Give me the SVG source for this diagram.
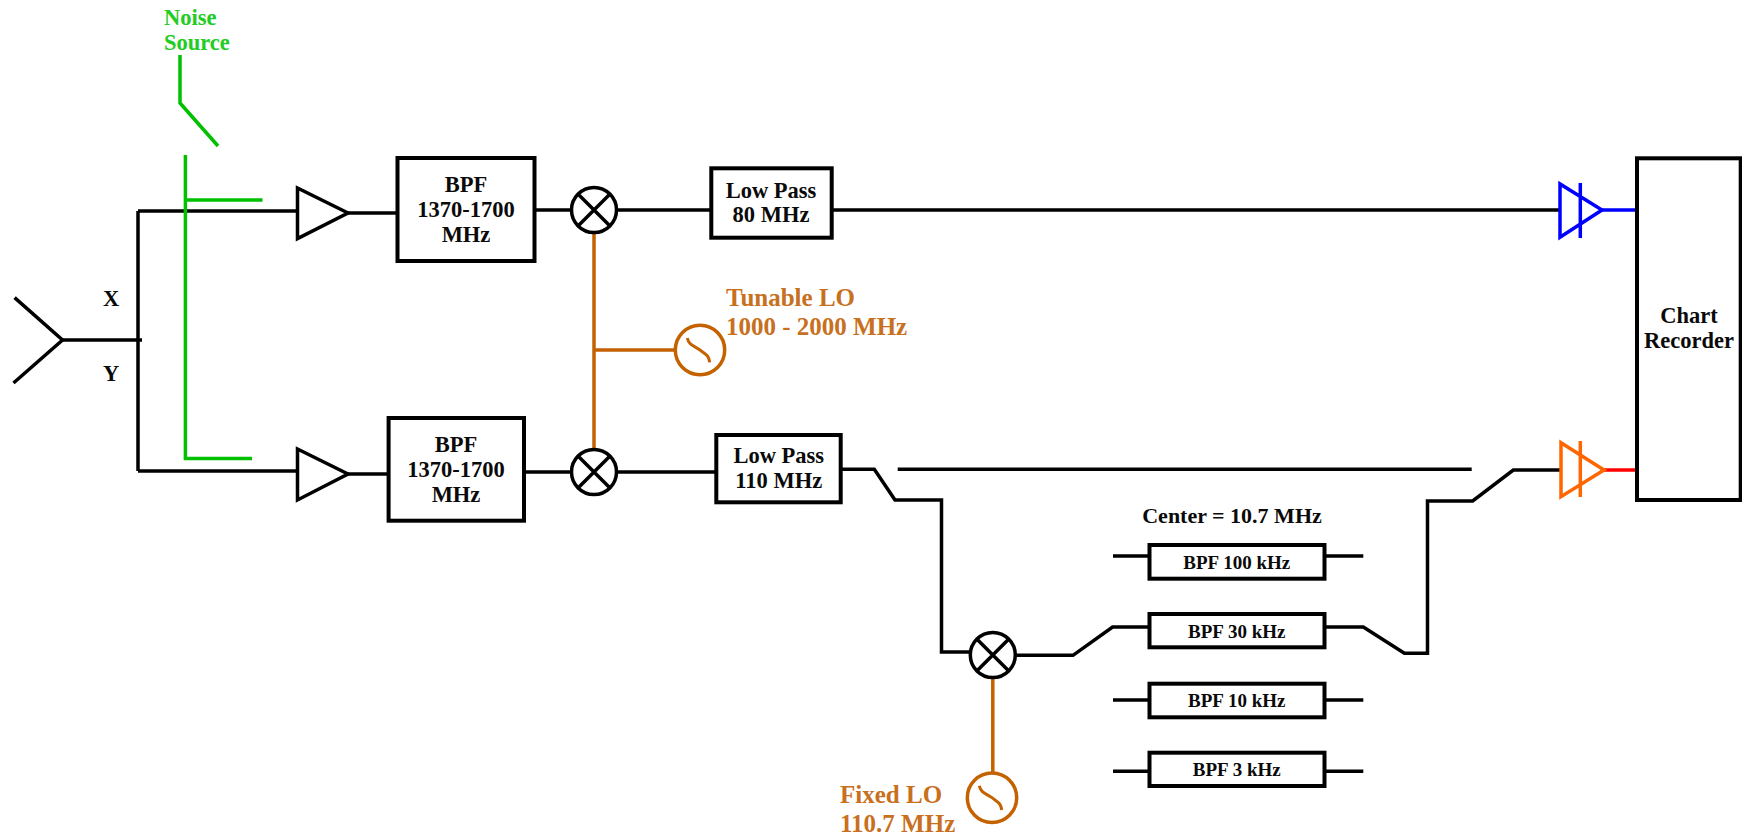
<svg xmlns="http://www.w3.org/2000/svg" width="1742" height="835" viewBox="0 0 1742 835">
<style>
text{font-family:"Liberation Serif","Times New Roman",serif;font-weight:bold;fill:#0a0a0a;font-size:22.5px;text-anchor:middle}
.s{font-size:19px}
.bo{fill:#c8701e;font-size:25px;text-anchor:start}
.gt{fill:#22cc22;font-size:22.500px;text-anchor:start}
.box{fill:#fff;stroke:#000;stroke-width:4}
.w{fill:none;stroke:#000;stroke-width:3.5}
.o{fill:none;stroke:#c46200;stroke-width:3.5}
.g{fill:none;stroke:#00c000;stroke-width:3.5}
.b{fill:none;stroke:#0000ff;stroke-width:3.5}
.r{fill:none;stroke:#ff6600;stroke-width:3.5}
.red{fill:none;stroke:#ff0000;stroke-width:3.5}
.amp{fill:#fff;stroke:#000;stroke-width:3.5;stroke-linejoin:miter}
</style>
<defs>
<g id="mix"><circle r="22.5" fill="#fff" stroke="#000" stroke-width="3.5"/><path d="M-16-16L16 16M-16 16L16-16" stroke="#000" stroke-width="3.5"/></g>
<g id="osc"><circle r="24.7" fill="#fff" stroke="#c46200" stroke-width="3.5"/><path d="M-12.700-12C-11-4 -5-4 0 0S9 5 9.700 12.300" fill="none" stroke="#c46200" stroke-width="3"/></g>
</defs>
<g id="connectors">
<path class="w" d="M62.500 340H142M138 211V471M138 211H298M138 471H298M348 213H397M348 474H389"/>
<path class="w" d="M534 210H572M616 210H711M832 210H1560M524 472H572M616 472H716"/>
<path class="w" d="M841 469.300H874.300L895 500H941.500V652H970M897.700 469.300H1471.700M1015 655.300H1073L1112.600 627H1149.500M1324.500 627H1363.300L1404.400 653.300H1427.500V501H1472.700L1513.300 470H1561"/>
<path class="w" d="M1113 556H1149.500M1324.500 556H1363.300M1113 700H1149.500M1324.500 700H1363.300M1113 771.300H1149.500M1324.500 771.300H1363.300"/>
<path class="o" d="M594 232V450M594 350H676M992.800 678V773"/>
<path class="b" d="M1602 210H1637"/>
<path class="red" d="M1604 470H1637"/>
</g>
<g id="noise-source">
<path class="g" d="M180 55V103L218 146M185.400 155V458.500H252M185.400 200H262.500"/>
<text class="gt" x="164" y="25">Noise</text>
<text class="gt" x="164" y="50">Source</text>
</g>
<g id="antenna"><path class="w" d="M14.600 297.600L62.500 340L13.500 383"/></g>
<g id="label-x"><text x="111" y="306">X</text></g>
<g id="label-y"><text x="111" y="381">Y</text></g>
<g id="amp-x"><path class="amp" d="M297.500 188V238.600L348 213Z"/></g>
<g id="amp-y"><path class="amp" d="M297.500 449V500L348 474Z"/></g>
<g id="bpf-x"><rect class="box" x="397.500" y="158" width="137" height="103"/>
<text x="466" y="192.400">BPF</text><text x="466" y="217">1370-1700</text><text x="466" y="242">MHz</text></g>
<g id="bpf-y"><rect class="box" x="388.600" y="418" width="135.400" height="102.700"/>
<text x="456" y="451.700">BPF</text><text x="456" y="476.500">1370-1700</text><text x="456" y="501.700">MHz</text></g>
<g id="mixer-x"><use href="#mix" x="594" y="210"/></g>
<g id="mixer-y"><use href="#mix" x="594" y="472"/></g>
<g id="low-pass-80"><rect class="box" x="711.300" y="168.300" width="120.400" height="69.400"/>
<text x="771" y="197.700">Low Pass</text><text x="771" y="221.700">80 MHz</text></g>
<g id="low-pass-110"><rect class="box" x="716.300" y="435" width="124.400" height="67.300"/>
<text x="778.700" y="463">Low Pass</text><text x="778.700" y="487.700">110 MHz</text></g>
<g id="tunable-lo"><use href="#osc" x="700" y="350"/>
<text class="bo" x="726" y="306">Tunable LO</text><text class="bo" x="726" y="334.700">1000 - 2000 MHz</text></g>
<g id="detector-x"><path class="b" d="M1560 184V237.300L1602 210ZM1580.300 183V238"/></g>
<g id="detector-y"><path class="r" d="M1561 442.700V496.700L1604 470ZM1580.300 441V497"/></g>
<g id="chart-recorder"><rect class="box" x="1637" y="158.300" width="103.700" height="341.700"/>
<text x="1689" y="323.300">Chart</text><text x="1689" y="347.700">Recorder</text></g>
<g id="mixer-if"><use href="#mix" x="992.800" y="655"/></g>
<g id="fixed-lo"><use href="#osc" x="992" y="797.700"/>
<text class="bo" x="840" y="802.700">Fixed LO</text><text class="bo" x="840" y="831.500">110.7 MHz</text></g>
<g id="center-label"><text x="1232" y="522.700" style="font-size:22px">Center = 10.7 MHz</text></g>
<g id="bpf-100k"><rect class="box" x="1149.500" y="545" width="175" height="33.700"/><text class="s" x="1236.800" y="569.300">BPF 100 kHz</text></g>
<g id="bpf-30k"><rect class="box" x="1149.500" y="614" width="175" height="33.300"/><text class="s" x="1236.800" y="638">BPF 30 kHz</text></g>
<g id="bpf-10k"><rect class="box" x="1149.500" y="683.700" width="175" height="33.600"/><text class="s" x="1236.800" y="707">BPF 10 kHz</text></g>
<g id="bpf-3k"><rect class="box" x="1149.500" y="752.700" width="175" height="33.300"/><text class="s" x="1236.800" y="775.700">BPF 3 kHz</text></g>
</svg>
